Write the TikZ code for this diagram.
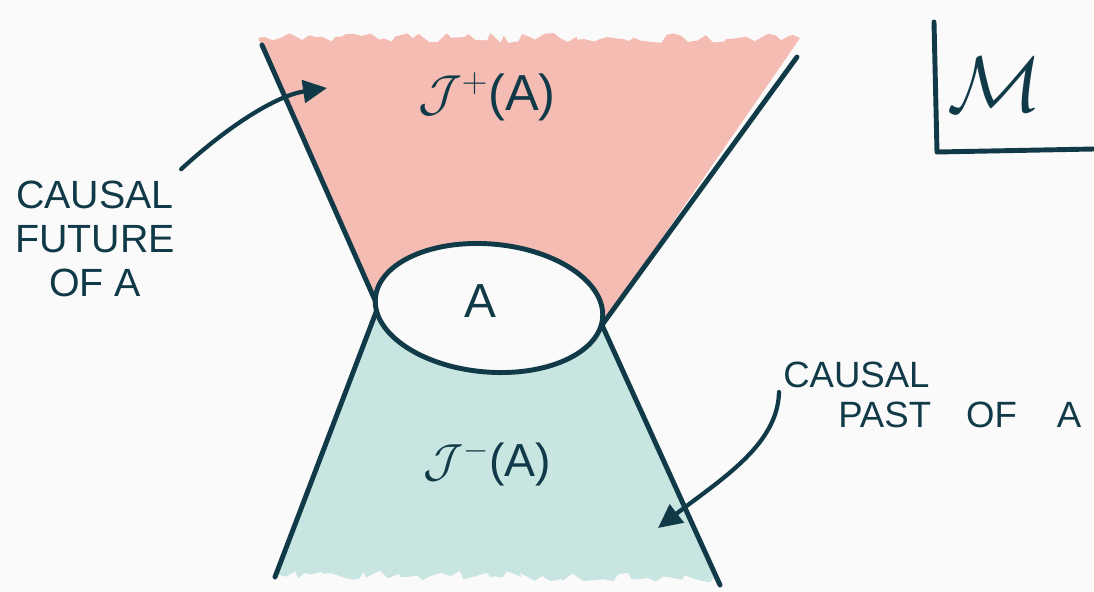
\RequirePackage{fix-cm}
\documentclass[tikz,border=0pt]{standalone}
\usepackage{fontspec}
\setmainfont{Liberation Sans}
\usetikzlibrary{arrows.meta,shapes.geometric,decorations.pathmorphing}
\definecolor{InkBlue}{RGB}{17,58,72}
\definecolor{FuturePink}{RGB}{245,188,180}
\definecolor{PastTeal}{RGB}{200,229,225}
\definecolor{PaperGrey}{RGB}{250,250,250}

\begin{document}
\begin{tikzpicture}[x=0.025cm,y=-0.025cm,
  inkline/.style={draw=InkBlue,line width=3.5pt,line cap=round,line join=round},
  pointer/.style={draw=InkBlue,line width=3pt,line cap=round,-{Triangle[length=17pt,width=16pt]}},
  hand/.style={text=InkBlue,font=\fontsize{28}{31}\selectfont,align=center,inner sep=0pt},
  setlbl/.style={text=InkBlue,font=\fontsize{36}{36}\selectfont,inner sep=0pt},
  rough/.style={decoration={random steps,segment length=5pt,amplitude=3.5pt}},
]
\fill[PaperGrey] (0,0) rectangle (1094,592);
\useasboundingbox (0,0) rectangle (1094,592);
\pgfmathsetseed{7}
\coordinate (futtl) at (262,45);
\coordinate (futtr) at (797,57);
\coordinate (crossl) at (378,307);
\coordinate (crossr) at (602,325);
\coordinate (pastbl) at (275,577);
\coordinate (pastbr) at (720,585);
\fill[FuturePink] (258,38) decorate[rough]{-- (800,38)} -- (crossr) -- (crossl) -- cycle;
\fill[PastTeal] (crossl) -- (crossr) -- (714,578) decorate[rough]{-- (276,574)} -- cycle;
\draw[inkline] (futtl) -- (crossl) -- (pastbl);
\draw[inkline] (futtr) -- (crossr) -- (pastbr);
\node[ellipse,draw=InkBlue,line width=3.5pt,fill=PaperGrey,minimum width=5.7cm,
      minimum height=3.2cm,rotate=-5] (setA) at (489,308) {};
\node[setlbl,font=\fontsize{34}{34}\selectfont] (labelA) at (480,301) {A};
\node[setlbl] (futureset) at (487,97) {$\mathcal{J}^{+}$(A)};
\node[setlbl,font=\fontsize{33}{33}\selectfont] (pastset) at (487,463) {$\mathcal{J}^{-}$(A)};
\node[hand] (futurelbl) at (95,239) {CAUSAL\\FUTURE\\OF A};
\node[hand,align=left,anchor=west,font=\fontsize{26}{28}\selectfont] (pastlbl) at (783,395)
  {CAUSAL\\\hspace{1.375cm}PAST\hspace{0.875cm}OF\hspace{1.0cm}A};
\coordinate (futtip) at (327,88);
\coordinate (pasttip) at (658,528);
\draw[pointer] ([shift={(6,-12)}]futurelbl.north east) .. controls (235,120) and (280,95) .. (futtip);
\draw[pointer] ([shift={(-4,-3)}]pastlbl.west) .. controls (778,445) and (720,480) .. (pasttip);
\coordinate (frametop) at (934,22);
\coordinate (framecorner) at (937,152);
\coordinate (frameend) at (1094,149);
\draw[inkline] (frametop) -- (framecorner) -- (frameend);
\node[text=InkBlue,font=\fontsize{56}{56}\selectfont] (manifold) at (995,85) {$\mathcal{M}$};
\end{tikzpicture}
\end{document}
